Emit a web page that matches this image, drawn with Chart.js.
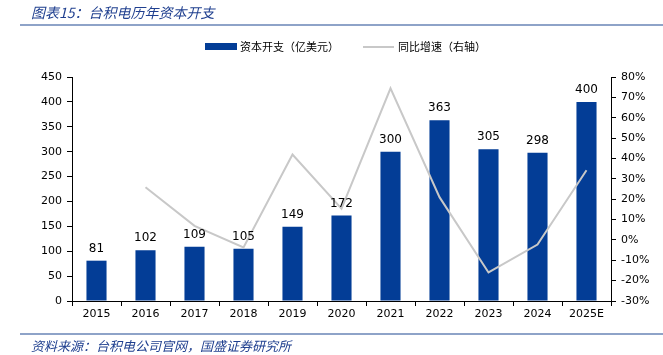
<!DOCTYPE html>
<html><head><meta charset="utf-8">
<script src="https://cdn.jsdelivr.net/npm/chart.js@4"></script>
<style>
html,body{margin:0;padding:0;background:#fff;}
#wrap{position:relative;width:663px;height:355px;overflow:hidden;}
canvas{position:absolute;left:0;top:0;}
.t{position:absolute;font-family:"Noto Sans CJK SC";font-style:italic;color:#1f3f8f;white-space:nowrap;}
.ln{position:absolute;height:2px;background:#8ea3c8;}
.lg{position:absolute;font-family:"Noto Sans CJK SC";font-size:11px;color:#000;white-space:nowrap;}
</style></head><body>
<div id="wrap">
<canvas id="c" width="663" height="355"></canvas>
<div class="t" style="left:31px;top:2px;font-size:14px;">图表15：台积电历年资本开支</div>
<div class="ln" style="left:20px;top:24px;width:643px;"></div>
<div class="ln" style="left:20px;top:333px;width:643px;"></div>
<div class="t" style="left:31px;top:336px;font-size:13px;">资料来源：台积电公司官网，国盛证券研究所</div>
<div style="position:absolute;left:205px;top:43px;width:32px;height:7px;background:#033d96;"></div>
<div class="lg" style="left:240px;top:38px;">资本开支（亿美元）</div>
<div style="position:absolute;left:363px;top:46px;width:31px;height:2px;background:#c8c8c8;"></div>
<div class="lg" style="left:398px;top:38px;">同比增速（右轴）</div>
</div>
<script>
const categories = ["2015","2016","2017","2018","2019","2020","2021","2022","2023","2024","2025E"];
const capex = [81,102,109,105,149,172,300,363,305,298,400];
const growth = [null,25.9,6.9,-3.7,41.9,15.4,74.4,21.0,-16.0,-2.3,34.2];

const labelPlugin = {
  id:'lbl',
  afterDatasetsDraw(chart){
    const ctx = chart.ctx;
    const meta = chart.getDatasetMeta(1);
    ctx.save();
    ctx.font = '12px "DejaVu Sans"';
    ctx.fillStyle = '#000';
    ctx.textAlign = 'center';
    ctx.textBaseline = 'bottom';
    meta.data.forEach((b,i)=>{ ctx.fillText(String(capex[i]), b.x, b.y - 6); });
    ctx.restore();
  }
};

new Chart(document.getElementById('c'), {
  data:{
    labels:categories,
    datasets:[
      {type:'line', data:growth, yAxisID:'y1', borderColor:'#c8c8c8', borderWidth:2, pointRadius:0, tension:0, order:0, spanGaps:false},
      {type:'bar', data:capex, yAxisID:'y', backgroundColor:'#033d96', barPercentage:0.41, categoryPercentage:1, order:1}
    ]
  },
  options:{
    responsive:false, animation:false,
    layout:{padding:{top:77,left:0,right:0,bottom:0}},
    plugins:{legend:{display:false}, tooltip:{enabled:false}},
    scales:{
      x:{
        offset:true,
        grid:{display:true, drawOnChartArea:false, drawTicks:true, tickLength:5, color:'#000', offset:true},
        border:{display:true, color:'#000'},
        ticks:{color:'#000', font:{family:'DejaVu Sans', size:11}, padding:2, maxRotation:0},
        afterFit:s=>{s.height=54;}
      },
      y:{
        position:'left', min:0, max:450,
        grid:{display:true, drawOnChartArea:false, drawTicks:true, tickLength:5, color:'#000'},
        border:{display:true, color:'#000'},
        ticks:{stepSize:50, color:'#000', font:{family:'DejaVu Sans', size:11}, padding:5},
        afterFit:s=>{s.width=72;}
      },
      y1:{
        position:'right', min:-30, max:80,
        grid:{display:true, drawOnChartArea:false, drawTicks:true, tickLength:5, color:'#000'},
        border:{display:true, color:'#000'},
        ticks:{stepSize:10, color:'#000', font:{family:'DejaVu Sans', size:11}, padding:5, callback:v=>v+'%'},
        afterFit:s=>{s.width=52;}
      }
    }
  },
  plugins:[labelPlugin]
});
</script>
</body></html>
